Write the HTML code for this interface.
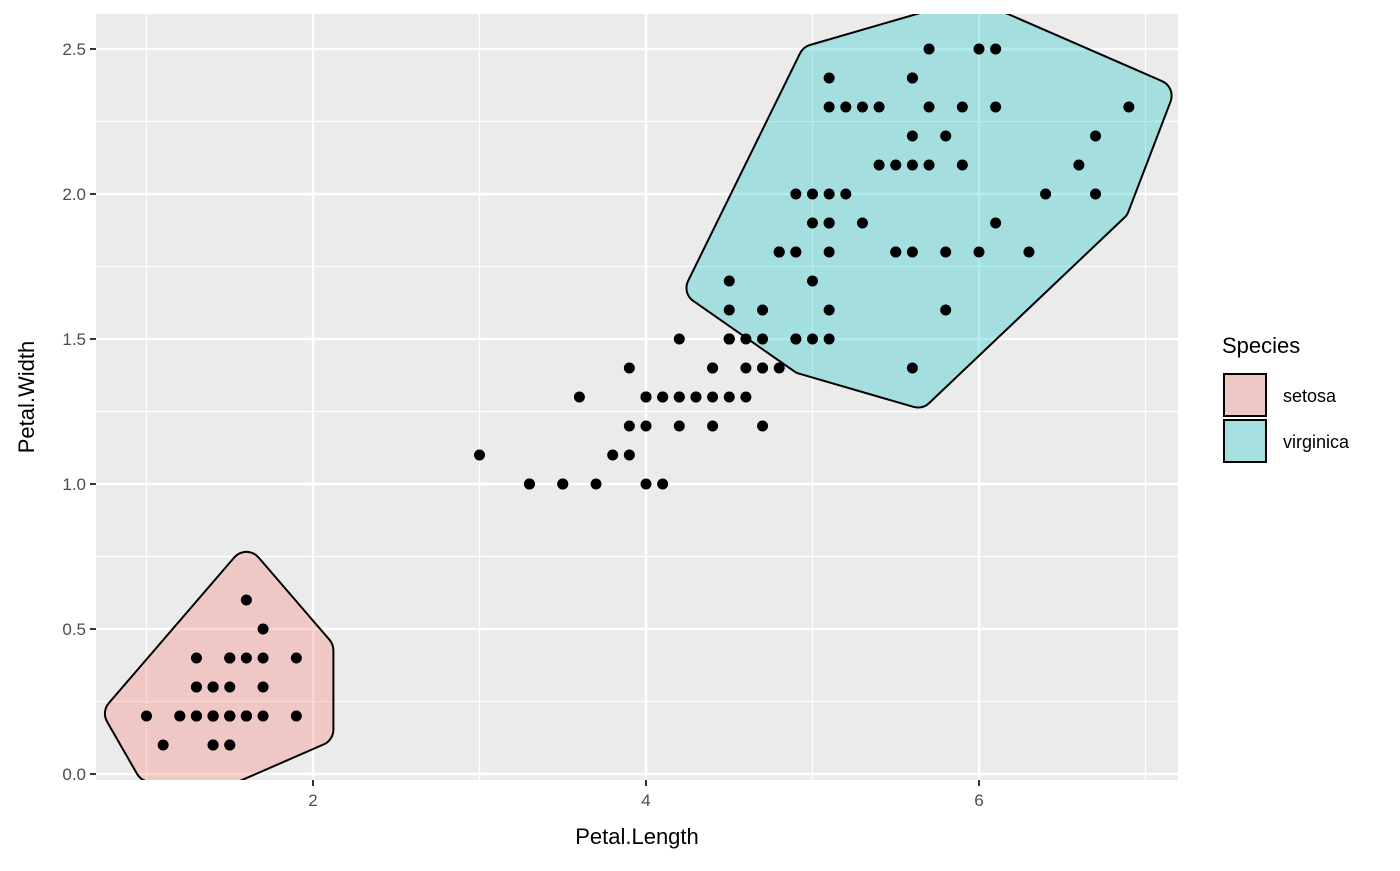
<!DOCTYPE html>
<html><head><meta charset="utf-8"><style>
body{margin:0;background:#fff;}
svg{font-family:"Liberation Sans",sans-serif;}
</style></head><body>
<svg id="chart" width="1400" height="866" xmlns="http://www.w3.org/2000/svg">
<defs><clipPath id="pc"><rect x="96" y="14" width="1082" height="766"/></clipPath></defs>
<rect x="96" y="14" width="1082" height="766" fill="#EBEBEB"/>
<g id="grid"></g>
<g id="hulls" clip-path="url(#pc)"></g>
<g id="points" clip-path="url(#pc)"></g>
<g id="axes"></g>
<text x="637" y="844" font-size="22" text-anchor="middle" fill="#000">Petal.Length</text>
<text transform="translate(34,397) rotate(-90)" font-size="22" text-anchor="middle" fill="#000">Petal.Width</text>
<g>
<text x="1222" y="353" font-size="22" fill="#000">Species</text>
<rect x="1224" y="374" width="42" height="42" fill="#EFC7C5" stroke="#000" stroke-width="2"/>
<text x="1283" y="402" font-size="18" fill="#000">setosa</text>
<rect x="1224" y="420" width="42" height="42" fill="#A6DFE0" stroke="#000" stroke-width="2"/>
<text x="1283" y="448" font-size="18" fill="#000">virginica</text>
</g>
</svg>
<script>
const setosaLen=[1.4,1.4,1.3,1.5,1.4,1.7,1.4,1.5,1.4,1.5,1.5,1.6,1.4,1.1,1.2,1.5,1.3,1.4,1.7,1.5,1.7,1.5,1.0,1.7,1.9,1.6,1.6,1.5,1.4,1.6,1.6,1.5,1.5,1.4,1.5,1.2,1.3,1.4,1.3,1.5,1.3,1.3,1.3,1.6,1.9,1.4,1.6,1.4,1.5,1.4];
const setosaWid=[0.2,0.2,0.2,0.2,0.2,0.4,0.3,0.2,0.2,0.1,0.2,0.2,0.1,0.1,0.2,0.4,0.4,0.3,0.3,0.3,0.2,0.4,0.2,0.5,0.2,0.2,0.4,0.2,0.2,0.2,0.2,0.4,0.1,0.2,0.2,0.2,0.2,0.1,0.2,0.2,0.3,0.3,0.2,0.6,0.4,0.3,0.2,0.2,0.2,0.2];
const versiLen=[4.7,4.5,4.9,4.0,4.6,4.5,4.7,3.3,4.6,3.9,3.5,4.2,4.0,4.7,3.6,4.4,4.5,4.1,4.5,3.9,4.8,4.0,4.9,4.7,4.3,4.4,4.8,5.0,4.5,3.5,3.8,3.7,3.9,5.1,4.5,4.5,4.7,4.4,4.1,4.0,4.4,4.6,4.0,3.3,4.2,4.2,4.2,4.3,3.0,4.1];
const versiWid=[1.4,1.5,1.5,1.3,1.5,1.3,1.6,1.0,1.3,1.4,1.0,1.5,1.0,1.4,1.3,1.4,1.5,1.0,1.5,1.1,1.8,1.3,1.5,1.2,1.3,1.4,1.4,1.7,1.5,1.0,1.1,1.0,1.2,1.6,1.5,1.6,1.5,1.3,1.3,1.3,1.2,1.4,1.2,1.0,1.3,1.2,1.3,1.3,1.1,1.3];
const virgLen=[6.0,5.1,5.9,5.6,5.8,6.6,4.5,6.3,5.8,6.1,5.1,5.3,5.5,5.0,5.1,5.3,5.5,6.7,6.9,5.0,5.7,4.9,6.7,4.9,5.7,6.0,4.8,4.9,5.6,5.8,6.1,6.4,5.6,5.1,5.6,6.1,5.6,5.5,4.8,5.4,5.6,5.1,5.1,5.9,5.7,5.2,5.0,5.2,5.4,5.1];
const virgWid=[2.5,1.9,2.1,1.8,2.2,2.1,1.7,1.8,1.8,2.5,2.0,1.9,2.1,2.0,2.4,2.3,1.8,2.2,2.3,1.5,2.3,2.0,2.0,1.8,2.1,1.8,1.8,1.8,2.1,1.6,1.9,2.0,2.2,1.5,1.4,2.3,2.4,1.8,1.8,2.1,2.4,2.3,1.9,2.3,2.5,2.3,1.9,2.0,2.3,1.8];
const xTicks=[2,4,6];
const yTicks=[0.0,0.5,1.0,1.5,2.0,2.5];
const xMinor=[1,3,5,7];
const yMinor=[0.25,0.75,1.25,1.75,2.25];

const NS="http://www.w3.org/2000/svg";
const X=v=>146.5+(v-1)*166.5;
const Y=v=>774-v*290;
function mk(tag,attrs,parent){const e=document.createElementNS(NS,tag);for(const k in attrs)e.setAttribute(k,attrs[k]);parent.appendChild(e);return e;}
const grid=document.getElementById('grid'),axes=document.getElementById('axes');
xMinor.forEach(v=>{const l=mk('line',{x1:X(v),x2:X(v),y1:14,y2:780,stroke:'#fff','stroke-width':1.2},grid);

});
yMinor.forEach(v=>{const l=mk('line',{x1:96,x2:1178,y1:Y(v),y2:Y(v),stroke:'#fff','stroke-width':1.2},grid);

});
xTicks.forEach(v=>{const l=mk('line',{x1:X(v),x2:X(v),y1:14,y2:780,stroke:'#fff','stroke-width':2.4},grid);


const t=mk('line',{x1:X(v),x2:X(v),y1:780,y2:786,stroke:'#333','stroke-width':2},axes);


const tx=mk('text',{x:X(v),y:806,'font-size':17,'text-anchor':'middle',fill:'#4D4D4D'},axes);tx.textContent=v;

});
yTicks.forEach(v=>{const l=mk('line',{x1:96,x2:1178,y1:Y(v),y2:Y(v),stroke:'#fff','stroke-width':2.4},grid);


const t=mk('line',{x1:90,x2:96,y1:Y(v),y2:Y(v),stroke:'#333','stroke-width':2},axes);


const tx=mk('text',{x:86,y:Y(v)+6,'font-size':17,'text-anchor':'end',fill:'#4D4D4D'},axes);tx.textContent=v.toFixed(1);

});

function hull(pts){pts=pts.slice().sort((a,b)=>a[0]-b[0]||a[1]-b[1]);
const cr=(o,a,b)=>(a[0]-o[0])*(b[1]-o[1])-(a[1]-o[1])*(b[0]-o[0]);
const lo=[],up=[];for(const p of pts){while(lo.length>=2&&cr(lo[lo.length-2],lo[lo.length-1],p)<=0)lo.pop();lo.push(p);}
for(let i=pts.length-1;i>=0;i--){const p=pts[i];while(up.length>=2&&cr(up[up.length-2],up[up.length-1],p)<=0)up.pop();up.push(p);}
up.pop();lo.pop();return lo.concat(up);}
function centroid(h){let cx=0,cy=0;h.forEach(p=>{cx+=p[0];cy+=p[1];});return [cx/h.length,cy/h.length];}
function outNorm(a,b,cen){const dx=b[0]-a[0],dy=b[1]-a[1],L=Math.hypot(dx,dy);let n=[dy/L,-dx/L];
 const mx=(a[0]+b[0])/2-cen[0],my=(a[1]+b[1])/2-cen[1];if(n[0]*mx+n[1]*my<0)n=[-n[0],-n[1]];return n;}
function offsetPath(h,E,R){
 const n=h.length,m=E-R,mv=[];const cen=centroid(h);
 for(let i=0;i<n;i++){const p=h[(i-1+n)%n],c=h[i],q=h[(i+1)%n];
  const n1=outNorm(p,c,cen),n2=outNorm(c,q,cen);
  const bx=n1[0]+n2[0],by=n1[1]+n2[1],bl=Math.hypot(bx,by);const cosh=bl/2;
  const k=m/Math.max(cosh,0.3);mv.push([c[0]+bx/bl*k,c[1]+by/bl*k]);}
 const cen2=centroid(mv);
 let d='';
 for(let i=0;i<n;i++){const p=mv[(i-1+n)%n],c=mv[i],q=mv[(i+1)%n];
  const n1=outNorm(p,c,cen2),n2=outNorm(c,q,cen2);
  const a1=Math.atan2(n1[1],n1[0]);const a2=Math.atan2(n2[1],n2[0]);
  let da=a2-a1;while(da>Math.PI)da-=2*Math.PI;while(da<-Math.PI)da+=2*Math.PI;
  for(let j=0;j<=8;j++){const a=a1+da*j/8;const x=c[0]+R*Math.cos(a),y=c[1]+R*Math.sin(a);d+=(d?'L':'M')+x.toFixed(1)+','+y.toFixed(1);}}
 return d+'Z';}
const hg=document.getElementById('hulls');
[[setosaLen,setosaWid,'rgba(248,118,109,0.3)','hull-setosa'],[virgLen,virgWid,'rgba(0,191,196,0.3)','hull-virginica']].forEach(([xs,ys,col,nm])=>{
 const pts=xs.map((v,i)=>[X(v),Y(ys[i])]);const h=hull(pts);
 const p=mk('path',{d:offsetPath(h,37,16),fill:col,stroke:'#000','stroke-width':2},hg);
 
 });
const pg=document.getElementById('points');
[[setosaLen,setosaWid,'point-setosa'],[versiLen,versiWid,'point-versicolor'],[virgLen,virgWid,'point-virginica']].forEach(([xs,ys,nm])=>{
 xs.forEach((v,i)=>{const c=mk('circle',{cx:X(v),cy:Y(ys[i]),r:5.5,fill:'#000'},pg);
 
 });});
</script>
</body></html>
